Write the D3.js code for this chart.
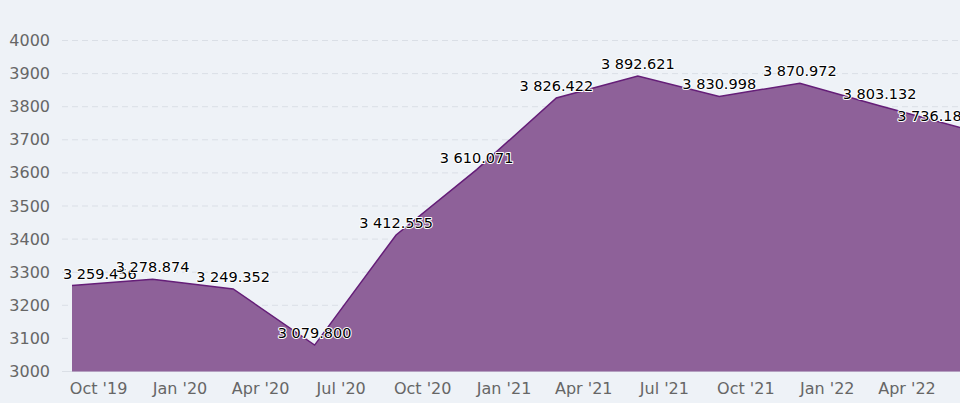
<!DOCTYPE html>
<html>
<head>
<meta charset="utf-8">
<script src="https://cdn.jsdelivr.net/npm/d3@7"></script>
<style>
  html, body { margin: 0; padding: 0; background: #eef2f7; }
  svg { display: block; }
</style>
</head>
<body>
<svg id="chart" width="960" height="403"></svg>
<script>
// ---- data ----
const dates = ["2019-09-01","2019-12-01","2020-03-01","2020-06-01","2020-09-01","2020-12-01",
               "2021-03-01","2021-06-01","2021-09-01","2021-12-01","2022-03-01","2022-06-01"];
const values = [3259.456, 3278.874, 3249.352, 3079.800, 3412.555, 3610.071,
                3826.422, 3892.621, 3830.998, 3870.972, 3803.132, 3736.185];
const yTicks = [3000, 3100, 3200, 3300, 3400, 3500, 3600, 3700, 3800, 3900, 4000];
const xTickDates = ["2019-10-01","2020-01-01","2020-04-01","2020-07-01","2020-10-01","2021-01-01",
                    "2021-04-01","2021-07-01","2021-10-01","2022-01-01","2022-04-01"];

const parse = d3.utcParse("%Y-%m-%d");
const data = dates.map((d, i) => ({ date: parse(d), value: values[i] }));

const W = 960, H = 403;
const plotLeft = 62, plotRight = 971;
const svg = d3.select("#chart");

const x = d3.scaleUtc()
  .domain([data[0].date, data[data.length - 1].date])
  .range([72, 961]);
const y = d3.scaleLinear().domain([3000, 4000]).range([371.5, 40.5]);

// gridlines
svg.append("g").selectAll("line").data(yTicks).join("line")
  .attr("x1", plotLeft).attr("x2", plotRight)
  .attr("y1", d => y(d)).attr("y2", d => y(d))
  .attr("stroke", "#dadfe6").attr("stroke-width", 1)
  .attr("stroke-dasharray", d => d === 3000 ? null : "6,4");

// y axis labels
svg.append("g").selectAll("text").data(yTicks).join("text")
  .attr("x", 50).attr("y", d => y(d) + 5.5)
  .attr("text-anchor", "end")
  .attr("font-family", "DejaVu Sans, sans-serif").attr("font-size", 16)
  .attr("fill", "#666").text(d => d);

// area & line
const area = d3.area().x(d => x(d.date)).y0(y(3000)).y1(d => y(d.value));
const line = d3.line().x(d => x(d.date)).y(d => y(d.value));
svg.append("path").datum(data).attr("d", area).attr("fill", "#8e6199");
svg.append("path").datum(data).attr("d", line)
  .attr("fill", "none").attr("stroke", "#651e78").attr("stroke-width", 1.5);

// x axis labels
const fmt = d3.utcFormat("%b '%y");
svg.append("g").selectAll("text").data(xTickDates.map(parse)).join("text")
  .attr("x", d => x(d)).attr("y", 394)
  .attr("text-anchor", "middle")
  .attr("font-family", "DejaVu Sans, sans-serif").attr("font-size", 16)
  .attr("fill", "#666").text(d => fmt(d));

// data labels
const numFmt = v => {
  const s = v.toFixed(3);
  const [ip, dp] = s.split(".");
  return ip.replace(/\B(?=(\d{3})+(?!\d))/g, " ") + "." + dp;
};
const lg = svg.append("g");
data.forEach(d => {
  const t = lg.append("text")
    .attr("font-family", "DejaVu Sans, sans-serif").attr("font-size", 14.5)
    .attr("fill", "#000").attr("stroke", "#fff").attr("stroke-width", 2)
    .attr("stroke-linejoin", "round").attr("paint-order", "stroke")
    .attr("y", y(d.value) - 7)
    .text(numFmt(d.value));
  const w = t.node().getComputedTextLength();
  let lx = x(d.date) - w / 2;
  if (lx < plotLeft + 1) lx = plotLeft + 1;
  if (lx + w > plotRight) lx = plotRight - w;
  t.attr("x", lx);
});
</script>
</body>
</html>
